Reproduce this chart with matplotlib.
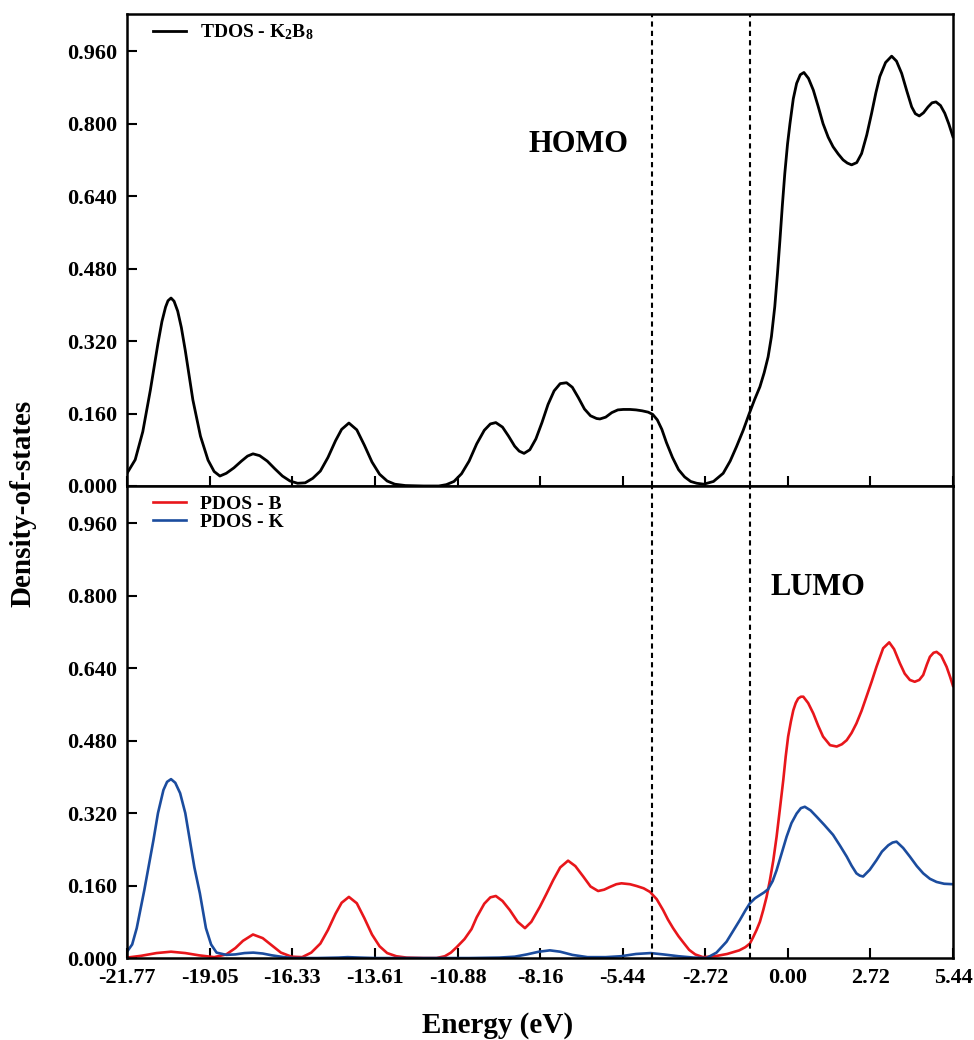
import matplotlib
matplotlib.use("Agg")
import matplotlib.pyplot as plt

plt.rcParams['font.family'] = ['Liberation Serif', 'DejaVu Serif']
plt.rcParams['font.weight'] = 'bold'
plt.rcParams['mathtext.fontset'] = 'custom'
plt.rcParams['mathtext.rm'] = 'Liberation Serif:bold'
plt.rcParams['mathtext.it'] = 'Liberation Serif:bold'
plt.rcParams['mathtext.bf'] = 'Liberation Serif:bold'

# --- TDOS (K2B8) ---
e_tdos = [-21.77, -21.5, -21.25, -21.0, -20.75, -20.62, -20.5, -20.42, -20.32, -20.22,
          -20.1, -19.98, -19.85, -19.6,
          -19.35, -19.1, -18.9, -18.71, -18.5, -18.25, -18.0, -17.8, -17.62, -17.4,
          -17.15, -16.9, -16.65, -16.4, -16.15, -15.9, -15.65, -15.4, -15.15, -14.9,
          -14.7, -14.46, -14.2, -13.95, -13.7, -13.45, -13.2, -12.95, -12.6, -12.0,
          -11.5, -11.25, -11.0, -10.75, -10.5, -10.25, -10.0, -9.8, -9.62, -9.4,
          -9.2, -9.0, -8.85, -8.69, -8.5, -8.3, -8.1, -7.9, -7.7, -7.5,
          -7.29, -7.1, -6.9, -6.7, -6.5, -6.3, -6.19, -6.0, -5.8, -5.6,
          -5.42, -5.2, -5.0, -4.8, -4.6, -4.45, -4.3, -4.15, -4.0, -3.8,
          -3.6, -3.4, -3.2, -3.0, -2.77, -2.45, -2.13, -1.9, -1.69, -1.47,
          -1.27, -1.1, -0.92, -0.78, -0.65, -0.54, -0.43, -0.34, -0.26, -0.18,
          -0.10, -0.01, 0.07, 0.18, 0.29, 0.41, 0.53, 0.68, 0.84, 1.0,
          1.16, 1.33, 1.49, 1.66, 1.82, 1.96, 2.10, 2.27, 2.43, 2.6,
          2.76, 2.9, 3.03, 3.22, 3.42, 3.58, 3.75, 3.92, 4.08, 4.2,
          4.33, 4.47, 4.62, 4.75, 4.88, 5.03, 5.17, 5.3, 5.44]
tdos = [0.028, 0.058, 0.12, 0.212, 0.315, 0.363, 0.395, 0.409, 0.415, 0.408,
        0.386, 0.35, 0.299, 0.19,
        0.11, 0.057, 0.032, 0.022, 0.028, 0.04, 0.055, 0.066, 0.071, 0.067,
        0.055, 0.038, 0.022, 0.011, 0.006, 0.007, 0.017, 0.033, 0.063, 0.1,
        0.125, 0.139, 0.124, 0.09, 0.053, 0.026, 0.011, 0.004, 0.001, 0.0,
        0.0, 0.003, 0.01, 0.027, 0.055, 0.093, 0.123, 0.137, 0.14, 0.13,
        0.11, 0.088, 0.077, 0.072, 0.08, 0.104, 0.14, 0.18, 0.21, 0.226,
        0.228, 0.218, 0.195, 0.17, 0.155, 0.149, 0.148, 0.152, 0.162, 0.168,
        0.169, 0.169, 0.168, 0.166, 0.163, 0.158, 0.146, 0.125, 0.096, 0.063,
        0.036, 0.02, 0.01, 0.006, 0.004, 0.01, 0.028, 0.055, 0.087, 0.123,
        0.16, 0.19, 0.219, 0.25, 0.285, 0.33, 0.396, 0.47, 0.543, 0.62,
        0.69, 0.755, 0.80, 0.855, 0.889, 0.908, 0.913, 0.9, 0.874, 0.838,
        0.80, 0.77, 0.749, 0.733, 0.72, 0.713, 0.709, 0.714, 0.734, 0.775,
        0.823, 0.868, 0.904, 0.935, 0.949, 0.938, 0.911, 0.872, 0.837, 0.822,
        0.817, 0.824, 0.837, 0.846, 0.848, 0.84, 0.823, 0.8, 0.771]

# --- PDOS B ---
e_pdos_b = [-21.77, -21.3, -20.8, -20.32, -19.85, -19.4, -18.9, -18.5, -18.2, -17.95,
            -17.62, -17.3, -17.0, -16.7, -16.35, -16.0, -15.7, -15.4, -15.15, -14.9,
            -14.7, -14.46, -14.2, -13.95, -13.7, -13.45, -13.2, -12.9, -12.56, -12.0,
            -11.57, -11.3, -11.1, -10.91, -10.65, -10.42, -10.25, -10.0, -9.8, -9.62,
            -9.4, -9.16, -8.9, -8.66, -8.45, -8.17, -7.95, -7.73, -7.5, -7.24,
            -7.0, -6.74, -6.5, -6.25, -6.05, -5.86, -5.65, -5.48, -5.2, -4.98,
            -4.75, -4.54, -4.32, -4.11, -3.95, -3.78, -3.6, -3.45, -3.25, -3.05,
            -2.8, -2.4, -2.0, -1.6, -1.4, -1.25, -1.15, -1.03, -0.92, -0.81,
            -0.7, -0.59, -0.48, -0.37, -0.26, -0.15, -0.07, 0.01, 0.1, 0.18,
            0.26, 0.34, 0.43, 0.51, 0.67, 0.84, 1.0, 1.16, 1.39, 1.61,
            1.78, 1.94, 2.1, 2.26, 2.43, 2.59, 2.76, 2.92, 3.14, 3.34,
            3.5, 3.69, 3.85, 4.02, 4.18, 4.33, 4.46, 4.58, 4.68, 4.8,
            4.9, 5.05, 5.23, 5.35, 5.44]
pdos_b = [0.001, 0.005, 0.011, 0.014, 0.011, 0.006, 0.002, 0.008, 0.022, 0.038,
          0.052, 0.044, 0.028, 0.012, 0.003, 0.002, 0.012, 0.032, 0.062, 0.098,
          0.122, 0.135, 0.121, 0.088, 0.052, 0.026, 0.011, 0.004, 0.001, 0.0,
          0.0, 0.004, 0.012, 0.024, 0.042, 0.064, 0.09, 0.12, 0.134, 0.137,
          0.126, 0.106, 0.08, 0.066, 0.08, 0.113, 0.142, 0.172, 0.2, 0.215,
          0.203, 0.18, 0.158, 0.148, 0.151, 0.157, 0.163, 0.165, 0.163, 0.159,
          0.154, 0.146, 0.13, 0.106, 0.085, 0.066, 0.048, 0.035, 0.018, 0.008,
          0.002, 0.004, 0.009, 0.017, 0.024, 0.032, 0.045, 0.062, 0.08, 0.106,
          0.135, 0.172, 0.215, 0.268, 0.33, 0.393, 0.445, 0.489, 0.522, 0.547,
          0.563, 0.573, 0.577, 0.577, 0.563, 0.54, 0.513, 0.489, 0.47, 0.467,
          0.472, 0.481, 0.497, 0.518, 0.546, 0.577, 0.61, 0.643, 0.684, 0.697,
          0.682, 0.651, 0.628, 0.614, 0.61, 0.614, 0.625, 0.648, 0.665, 0.674,
          0.676, 0.668, 0.643, 0.62, 0.601]

# --- PDOS K ---
e_pdos_k = [-21.77, -21.6, -21.45, -21.2, -20.9, -20.75, -20.57, -20.45, -20.32, -20.18,
            -20.02, -19.85, -19.7, -19.55, -19.37, -19.17, -19.0, -18.82, -18.5, -18.2,
            -17.9, -17.61, -17.3, -17.0, -16.6, -16.3, -15.5, -14.8, -14.5, -14.1,
            -13.6, -10.5, -9.5, -9.0, -8.6, -8.2, -7.84, -7.5, -7.1, -6.6,
            -6.0, -5.5, -5.0, -4.52, -4.1, -3.6, -3.1, -2.68, -2.35, -2.02,
            -1.8, -1.58, -1.4, -1.25, -1.08, -0.92, -0.78, -0.65, -0.5, -0.37,
            -0.2, -0.04, 0.12, 0.29, 0.43, 0.56, 0.75, 0.95, 1.2, 1.49,
            1.72, 1.94, 2.1, 2.26, 2.37, 2.48, 2.7, 2.92, 3.1, 3.31,
            3.45, 3.58, 3.8, 4.02, 4.25, 4.46, 4.68, 4.9, 5.15, 5.44]
pdos_k = [0.014, 0.03, 0.066, 0.15, 0.26, 0.32, 0.371, 0.389, 0.395, 0.387,
          0.364, 0.32, 0.26, 0.2, 0.143, 0.066, 0.03, 0.012, 0.007, 0.008,
          0.011, 0.012, 0.01, 0.006, 0.002, 0.0, 0.0, 0.001, 0.002, 0.001,
          0.0, 0.0, 0.001, 0.003, 0.008, 0.014, 0.017, 0.014, 0.007, 0.002,
          0.002, 0.004, 0.009, 0.011, 0.008, 0.004, 0.001, 0.0, 0.012, 0.036,
          0.06, 0.084, 0.105, 0.121, 0.132, 0.139, 0.145, 0.152, 0.17, 0.194,
          0.232, 0.268, 0.298, 0.319, 0.331, 0.334, 0.326, 0.312, 0.294, 0.272,
          0.248, 0.224, 0.204, 0.187, 0.182, 0.18, 0.195, 0.216, 0.235, 0.249,
          0.255, 0.257, 0.243, 0.224, 0.203, 0.187, 0.175, 0.168, 0.164, 0.163]

x_ticks = [-21.77, -19.05, -16.33, -13.61, -10.88, -8.16, -5.44, -2.72, 0.00, 2.72, 5.44]
x_labels = ['-21.77', '-19.05', '-16.33', '-13.61', '-10.88', '-8.16', '-5.44', '-2.72', '0.00', '2.72', '5.44']
y_ticks = [0.0, 0.16, 0.32, 0.48, 0.64, 0.80, 0.96]
y_labels = ['0.000', '0.160', '0.320', '0.480', '0.640', '0.800', '0.960']
homo_line = -4.47
lumo_line = -1.25

fig = plt.figure(figsize=(9.74, 10.4), dpi=100)
ax1 = fig.add_axes([0.1304, 0.5327, 0.848, 0.4538])
ax2 = fig.add_axes([0.1304, 0.0788, 0.848, 0.4538])

ax1.plot(e_tdos, tdos, color='black', lw=2.0, label='TDOS - K$_{2}$B$_{8}$')
ax2.plot(e_pdos_b, pdos_b, color='#e8161b', lw=1.9, label='PDOS - B')
ax2.plot(e_pdos_k, pdos_k, color='#1b4c9e', lw=1.9, label='PDOS - K')

for ax in (ax1, ax2):
    ax.set_xlim(-21.77, 5.44)
    ax.set_ylim(0, 1.042)
    ax.set_xticks(x_ticks)
    ax.set_yticks(y_ticks)
    ax.set_yticklabels(y_labels)
    ax.tick_params(direction='in', length=7, width=1.5, labelsize=16, pad=7)
    for s in ax.spines.values():
        s.set_linewidth(1.8)
    ax.axvline(homo_line, color='black', lw=1.5, ls=(0, (2.5, 2)))
    ax.axvline(lumo_line, color='black', lw=1.5, ls=(0, (2.5, 2)))
    for lab in ax.get_yticklabels() + ax.get_xticklabels():
        lab.set_fontweight('bold')

ax1.set_xticklabels([])
ax2.set_xticklabels(x_labels, fontweight='bold')

leg_kw = dict(loc='upper left', frameon=False, handlelength=1.7, handletextpad=0.72,
              labelspacing=0.05, borderaxespad=0, borderpad=0,
              prop={'size': 14, 'weight': 'bold'})
ax1.legend(bbox_to_anchor=(0.0315, 0.982), **leg_kw)
ax2.legend(bbox_to_anchor=(0.0315, 0.981), **leg_kw)

ax1.text(-6.91, 0.753, 'HOMO', fontsize=22, fontweight='bold', ha='center', va='center')
ax2.text(0.99, 0.819, 'LUMO', fontsize=22, fontweight='bold', ha='center', va='center')

fig.text(0.511, 0.0135, 'Energy (eV)', fontsize=21, fontweight='bold', ha='center', va='center')
fig.text(0.0236, 0.516, 'Density-of-states', fontsize=21, fontweight='bold',
         rotation=90, ha='center', va='center')

fig.savefig('out.png', dpi=100)
